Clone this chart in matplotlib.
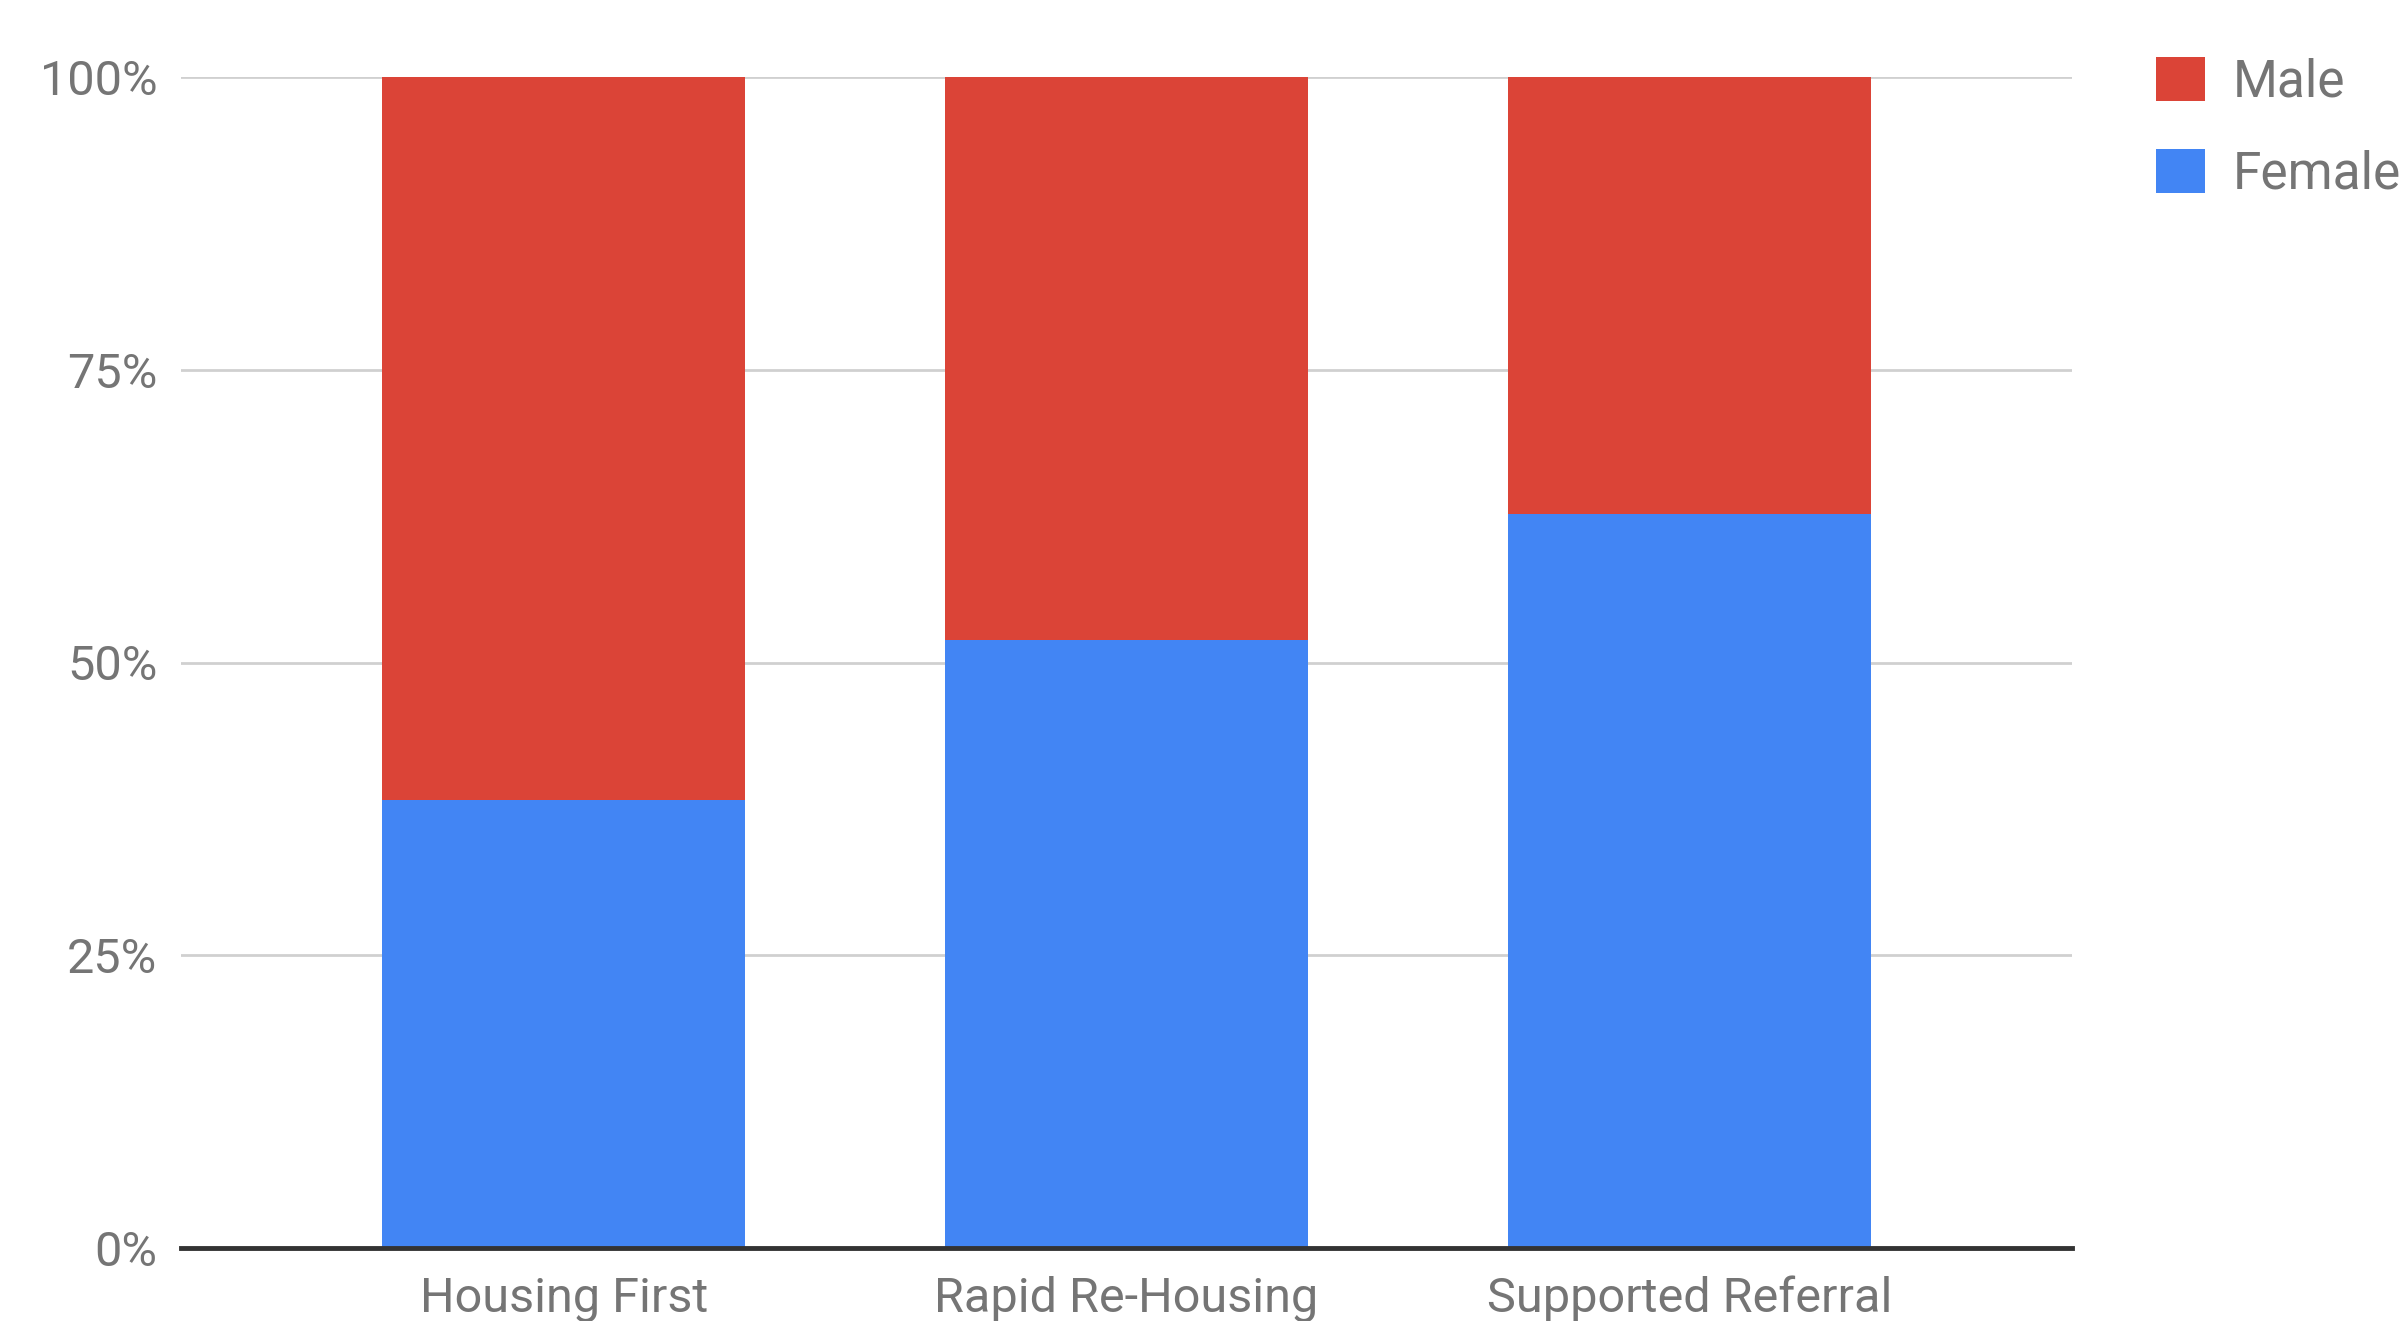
import matplotlib
matplotlib.use("Agg")
import matplotlib.pyplot as plt
from matplotlib.ticker import FixedLocator, PercentFormatter
from matplotlib.patches import Patch

categories = ["Housing First", "Rapid Re-Housing", "Supported Referral"]
female = [0.383, 0.519, 0.627]
male = [1 - f for f in female]
yticks = [0, 0.25, 0.5, 0.75, 1.0]

RED = "#DB4437"
BLUE = "#4285F4"
TEXT = "#757575"

plt.rcParams["font.family"] = ["Roboto", "DejaVu Sans"]

W, H = 2407, 1321
fig = plt.figure(figsize=(W / 100, H / 100), dpi=100)
ax = fig.add_axes([181 / W, (H - 1248) / H, (2072 - 181) / W, (1248 - 77) / H])

x = range(len(categories))
ax.bar(x, female, width=0.646, color=BLUE, label="Female", zorder=2)
ax.bar(x, male, bottom=female, width=0.646, color=RED, label="Male", zorder=2)

ax.set_xlim(-0.68, 2.68)
ax.set_ylim(0, 1)
ax.yaxis.set_major_locator(FixedLocator(yticks))
ax.yaxis.set_major_formatter(PercentFormatter(1.0, decimals=0))
ax.grid(axis="y", color="#d0d0d0", linewidth=2, zorder=0)
ax.set_axisbelow(True)

for s in ["top", "right", "left"]:
    ax.spines[s].set_visible(False)
ax.spines["bottom"].set_color("#333333")
ax.spines["bottom"].set_linewidth(3.5)
ax.spines["bottom"].set_zorder(3)

ax.set_xticks(list(x))
ax.set_xticklabels(categories)
ax.tick_params(axis="both", length=0, labelcolor=TEXT, labelsize=35)
ax.tick_params(axis="y", pad=17)
ax.tick_params(axis="x", pad=20)

handles = [Patch(facecolor=RED, label="Male"), Patch(facecolor=BLUE, label="Female")]
fig.legend(handles=handles, loc="upper left", bbox_to_anchor=(2156 / W, 1 - 57 / H),
           frameon=False, fontsize=37, labelcolor=TEXT, handlelength=0.95,
           handleheight=0.95, handletextpad=0.55, labelspacing=0.8, borderpad=0,
           borderaxespad=0)

fig.savefig("out.png", dpi=100)
